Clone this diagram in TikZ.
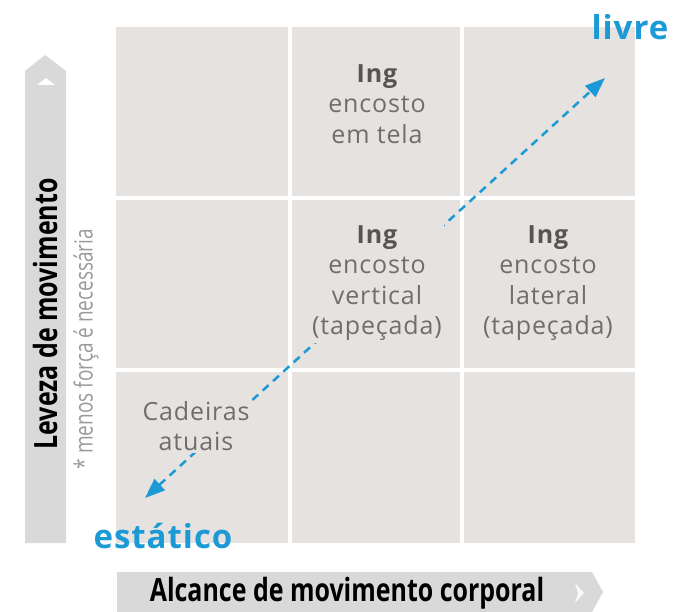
\documentclass[tikz,border=0pt]{standalone}
\usepackage{fontspec}
\setmainfont{Open Sans}
\newfontfamily\condfont[FakeStretch=0.78]{Open Sans}
\newfontfamily\thinfont[FakeStretch=0.76]{Open Sans}
\newfontfamily\spacedfont[LetterSpace=3.5]{Open Sans}
\newfontfamily\labelfont[LetterSpace=3]{Open Sans}
\usetikzlibrary{arrows.meta}
\definecolor{cellc}{HTML}{E6E2DF}
\definecolor{barc}{HTML}{D9D9D9}
\definecolor{bluec}{HTML}{1B9AD6}
\definecolor{txtc}{HTML}{6E6E6E}
\definecolor{ingc}{HTML}{555555}
\definecolor{notec}{HTML}{9A9A9A}
\tikzset{
  cellbox/.style={fill=cellc},
  celltext/.style={align=center, text=txtc, fill=cellc, inner sep=2pt,
    font=\spacedfont\fontsize{25}{30.5}\selectfont},
  bartext/.style={text=black, inner sep=0pt, font=\condfont\bfseries\fontsize{32}{38}\selectfont},
  endlabel/.style={text=bluec, inner sep=0pt, font=\labelfont\bfseries\fontsize{33}{38}\selectfont},
  trend/.style={draw=bluec, line width=2.5pt, dash pattern=on 8pt off 6pt,
    {Triangle[length=20pt,width=15pt]}-{Triangle[length=20pt,width=15pt]}},
}
\newcommand{\ingtxt}{{\bfseries\color{ingc}Ing}}
\begin{document}
\begin{tikzpicture}[x=1pt,y=-1pt]
\useasboundingbox (0,0) rectangle (690,612);
% grid cells
\fill[cellbox] (116,27) rectangle (288,196);
\fill[cellbox] (292,27) rectangle (460,196);
\fill[cellbox] (464,27) rectangle (635,196);
\fill[cellbox] (116,200) rectangle (288,368);
\fill[cellbox] (292,200) rectangle (460,368);
\fill[cellbox] (464,200) rectangle (635,368);
\fill[cellbox] (116,372) rectangle (288,543);
\fill[cellbox] (292,372) rectangle (460,543);
\fill[cellbox] (464,372) rectangle (635,543);
% vertical axis bar
\fill[barc] (25,543) -- (25,71) -- (45,55) -- (66,71) -- (66,543) -- cycle;
\fill[white] (37,85) -- (46,78) -- (55,85) -- cycle;
% horizontal axis bar
\fill[barc] (117,572) -- (592,572) -- (603,592) -- (592,612) -- (117,612) -- cycle;
\fill[white!85!barc] (575,583) -- (584,593) -- (575,603) -- (578,593) -- cycle;
% axis labels
\node[bartext, rotate=90] (ylab) at (45,314) {Leveza de movimento};
\node[bartext] (xlab) at (347,593) {Alcance de movimento corporal};
\node[rotate=90, text=notec, inner sep=0pt, font=\thinfont\fontsize{25}{30}\selectfont] (note) at (86,349) {* menos força é necessária};
% trend arrow
\coordinate (livreend) at (605,78);
\coordinate (staticend) at (145,498);
\draw[trend] (staticend) -- (livreend);
% cell texts
\node[celltext] (tm) at (377,104) {\ingtxt\\encosto\\em tela};
\node[celltext] (mm) at (377,283) {\ingtxt\\encosto\\vertical\\(tapeçada)};
\node[celltext] (mr) at (548,283) {\ingtxt\\encosto\\lateral\\(tapeçada)};
\node[celltext] (bl) at (196,426) {Cadeiras\\atuais};
% end labels
\node[endlabel] (livre) at (630,27) {livre};
\node[endlabel] (estatico) at (163,536) {estático};
\end{tikzpicture}
\end{document}
